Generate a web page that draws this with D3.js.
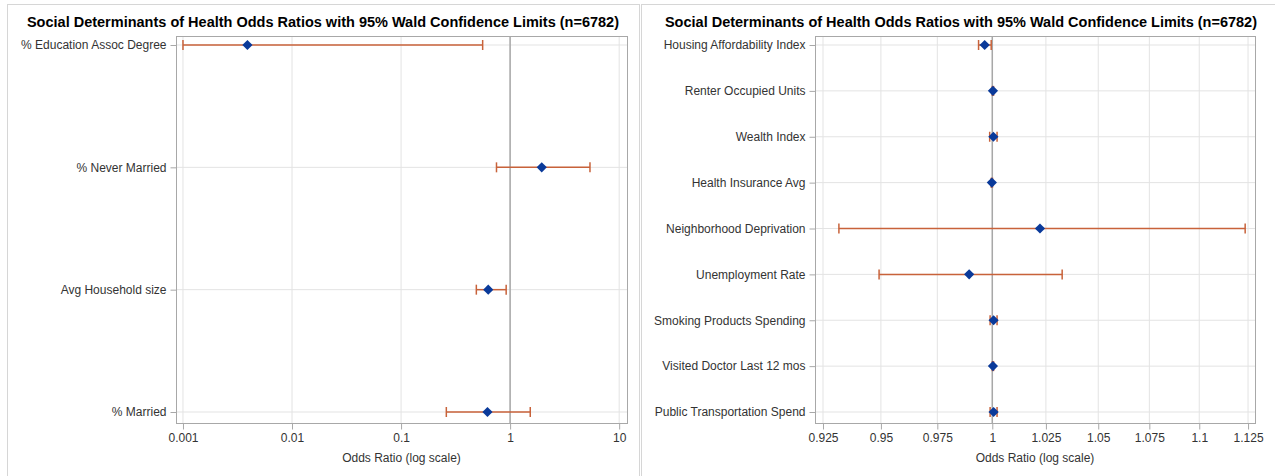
<!DOCTYPE html>
<html>
<head>
<meta charset="utf-8">
<script src="https://cdn.jsdelivr.net/npm/d3@7"></script>
<style>
  body { margin: 0; background: #fff; }
  svg { display: block; font-family: "Liberation Sans", Arial, sans-serif; }
</style>
</head>
<body>
<div id="chart"></div>
<script>
const title = "Social Determinants of Health Odds Ratios with 95% Wald Confidence Limits (n=6782)";
const axisTitle = "Odds Ratio (log scale)";

// left panel
const leftLabels = ["% Education Assoc Degree", "% Never Married", "Avg Household size", "% Married"];
const leftEst = [0.0039, 1.95, 0.63, 0.62];
const leftLower = [0.001, 0.75, 0.49, 0.26];
const leftUpper = [0.56, 5.4, 0.92, 1.53];
const leftTicks = [0.001, 0.01, 0.1, 1, 10];

// right panel
const rightLabels = [
  "Housing Affordability Index",
  "Renter Occupied Units",
  "Wealth Index",
  "Health Insurance Avg",
  "Neighborhood Deprivation",
  "Unemployment Rate",
  "Smoking Products Spending",
  "Visited Doctor Last 12 mos",
  "Public Transportation Spend",
];
const rightEst = [0.9965, 1.0003, 1.0005, 0.9998, 1.0222, 0.9894, 1.0006, 1.0003, 1.0006];
const rightLower = [0.9937, 1.0, 0.9988, 0.9995, 0.9318, 0.9492, 0.999, 1.0, 0.999];
const rightUpper = [0.9995, 1.0006, 1.0022, 1.0001, 1.1235, 1.0327, 1.0022, 1.0006, 1.0022];
const rightTicks = [0.925, 0.95, 0.975, 1, 1.025, 1.05, 1.075, 1.1, 1.125];

const width = 1275;
const height = 476;
const errColor = "#c8623a";
const markColor = "#0a3a9a";

const svg = d3.select("#chart").append("svg").attr("width", width).attr("height", height);

function drawPanel(opts) {
  const { px, pw, plotLeft, plotRight, labels, est, lower, upper, ticks, domain, fmt } = opts;
  const plotTop = 36;
  const plotBottom = 423;

  const g = svg.append("g");

  // panel border
  g.append("rect")
    .attr("x", px + 0.5)
    .attr("y", 4.5)
    .attr("width", pw)
    .attr("height", height)
    .attr("fill", "none")
    .attr("stroke", "#d6d6d6");

  g.append("text")
    .attr("x", px + pw / 2)
    .attr("y", 27)
    .attr("text-anchor", "middle")
    .attr("font-size", 14.5)
    .attr("font-weight", "bold")
    .attr("fill", "#000")
    .text(title);

  const x = d3.scaleLog().domain(domain).range([plotLeft, plotRight]);
  const y = d3.scalePoint().domain(labels).range([45, 412]);

  // grid
  g.append("g")
    .selectAll("line")
    .data(ticks)
    .join("line")
    .attr("x1", (d) => x(d))
    .attr("x2", (d) => x(d))
    .attr("y1", plotTop)
    .attr("y2", plotBottom)
    .attr("stroke", "#e3e3e3");

  g.append("g")
    .selectAll("line")
    .data(labels)
    .join("line")
    .attr("x1", plotLeft)
    .attr("x2", plotRight)
    .attr("y1", (d) => y(d))
    .attr("y2", (d) => y(d))
    .attr("stroke", "#e3e3e3");

  // reference line at 1
  g.append("line")
    .attr("x1", x(1))
    .attr("x2", x(1))
    .attr("y1", plotTop)
    .attr("y2", plotBottom)
    .attr("stroke", "#a8a8a8")
    .attr("stroke-width", 1.5);

  // frame
  g.append("rect")
    .attr("x", plotLeft + 0.5)
    .attr("y", plotTop + 0.5)
    .attr("width", plotRight - plotLeft)
    .attr("height", plotBottom - plotTop)
    .attr("fill", "none")
    .attr("stroke", "#a8a8a8");

  // axes
  const xAxis = g
    .append("g")
    .attr("transform", `translate(0, ${plotBottom + 0.5})`)
    .call(d3.axisBottom(x).tickValues(ticks).tickFormat(fmt).tickSize(6).tickPadding(4).tickSizeOuter(0));
  xAxis.select(".domain").remove();
  xAxis.selectAll("line").attr("stroke", "#a8a8a8");
  xAxis.selectAll("text").attr("font-size", 12).attr("fill", "#333").attr("font-family", "Liberation Sans, Arial, sans-serif");

  const yAxis = g
    .append("g")
    .attr("transform", `translate(${plotLeft + 0.5}, 0)`)
    .call(d3.axisLeft(y).tickSize(6).tickPadding(4).tickSizeOuter(0));
  yAxis.select(".domain").remove();
  yAxis.selectAll("line").attr("stroke", "#a8a8a8");
  yAxis.selectAll("text").attr("font-size", 12).attr("fill", "#333").attr("font-family", "Liberation Sans, Arial, sans-serif");

  g.append("text")
    .attr("x", (plotLeft + plotRight) / 2)
    .attr("y", 462)
    .attr("text-anchor", "middle")
    .attr("font-size", 12)
    .attr("fill", "#333")
    .text(axisTitle);

  // error bars
  const rows = labels.map((d, i) => ({ label: d, est: est[i], lo: lower[i], hi: upper[i] }));
  const bars = g.append("g").selectAll("g").data(rows).join("g");
  bars.append("line")
    .attr("x1", (d) => x(d.lo))
    .attr("x2", (d) => x(d.hi))
    .attr("y1", (d) => y(d.label))
    .attr("y2", (d) => y(d.label))
    .attr("stroke", errColor)
    .attr("stroke-width", 1.5);
  bars.selectAll(".cap")
    .data((d) => [d.lo, d.hi].map((v) => ({ v, label: d.label })))
    .join("line")
    .attr("class", "cap")
    .attr("x1", (d) => x(d.v))
    .attr("x2", (d) => x(d.v))
    .attr("y1", (d) => y(d.label) - 5)
    .attr("y2", (d) => y(d.label) + 5)
    .attr("stroke", errColor)
    .attr("stroke-width", 1.5);

  bars.append("path")
    .attr("d", d3.symbol().type(d3.symbolSquare).size(52))
    .attr("transform", (d) => `translate(${x(d.est)}, ${y(d.label)}) rotate(45)`)
    .attr("fill", markColor);
}

drawPanel({
  px: 7,
  pw: 632,
  plotLeft: 176,
  plotRight: 627,
  labels: leftLabels,
  est: leftEst,
  lower: leftLower,
  upper: leftUpper,
  ticks: leftTicks,
  domain: [0.000863, 11.8],
  fmt: (d) => String(d),
});

drawPanel({
  px: 641,
  pw: 640,
  plotLeft: 815,
  plotRight: 1255,
  labels: rightLabels,
  est: rightEst,
  lower: rightLower,
  upper: rightUpper,
  ticks: rightTicks,
  domain: [0.9216, 1.1286],
  fmt: (d) => String(d),
});
</script>
</body>
</html>
